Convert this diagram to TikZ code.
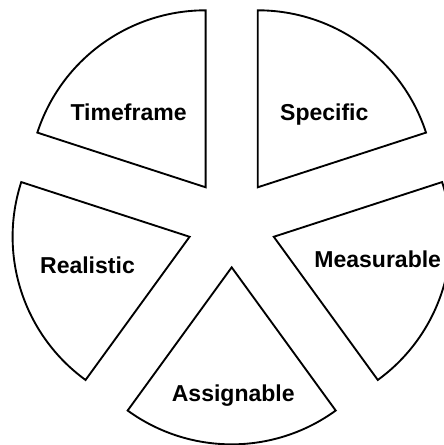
\documentclass[tikz,border=0pt]{standalone}
\usepackage{fontspec}
\setmainfont{Liberation Sans}
\usepackage{xcolor}
\usepackage{tikz}
\usetikzlibrary{positioning}

\tikzset{
  slice/.style={draw=black, fill=white, line width=1.2pt, line join=miter},
  slicelabel/.style={font=\fontsize{14.8}{18}\selectfont\bfseries, text=black, anchor=base, inner sep=0pt}
}

\begin{document}
\begin{tikzpicture}

% ===== FRAME =====
\clip (-5.236,-5.015) rectangle (4.798,5.042);

% ===== SLICES (pulled out from the centre by 1) =====
% Specific
\draw[slice] (54:1) -- ++(18:4) arc[start angle=18, end angle=90, radius=4] -- cycle;
% Timeframe
\draw[slice] (126:1) -- ++(90:4) arc[start angle=90, end angle=162, radius=4] -- cycle;
% Realistic
\draw[slice] (198:1) -- ++(162:4) arc[start angle=162, end angle=234, radius=4] -- cycle;
% Assignable
\draw[slice] (270:1) -- ++(234:4) arc[start angle=234, end angle=306, radius=4] -- cycle;
% Measurable
\draw[slice] (342:1) -- ++(306:4) arc[start angle=306, end angle=378, radius=4] -- cycle;

% ===== LABELS =====
\node[slicelabel] (specific) at (2.093,2.31) {Specific};
\node[slicelabel] (timeframe) at (-2.33,2.31) {Timeframe};
\node[slicelabel] (realistic) at (-3.259,-1.134) {Realistic};
\node[slicelabel] (assignable) at (0.036,-4.036) {Assignable};
\node[slicelabel] (measurable) at (3.30,-0.999) {Measurable};

\end{tikzpicture}
\end{document}
